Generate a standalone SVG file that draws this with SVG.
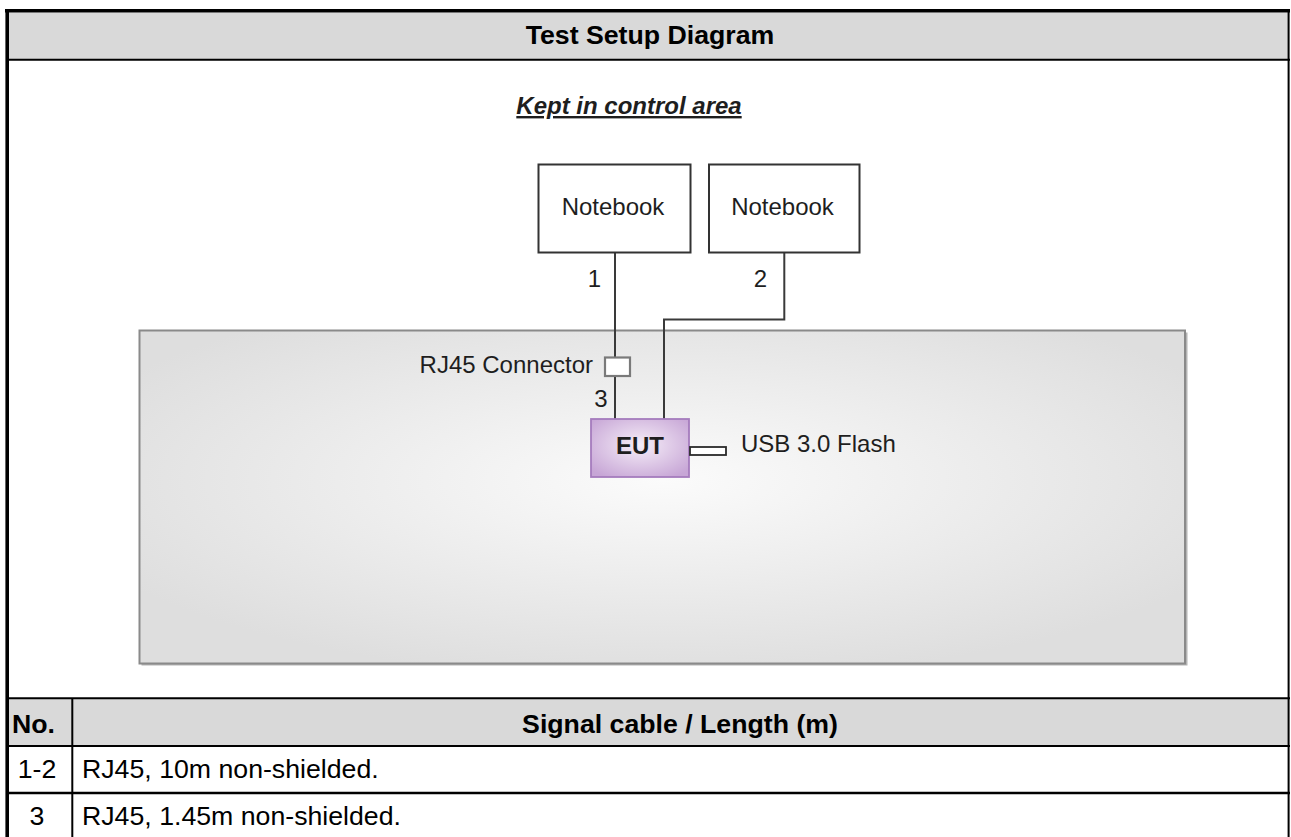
<svg xmlns="http://www.w3.org/2000/svg" width="1291" height="837" viewBox="0 0 1291 837">
<style>
  text { font-family: "Liberation Sans", Arial, sans-serif; fill: #1e1e1e; }
  .hdr { font-size: 26.7px; font-weight: bold; fill: #000; }
  .cell { font-size: 26.7px; fill: #000; }
  .lbl { font-size: 24px; }
  .tline { stroke: #000; stroke-width: 2; }
  .wire { stroke: #3a3a3a; stroke-width: 2; fill: none; }
  .nb { fill: #fff; stroke: #333; stroke-width: 2; }
</style>
<defs>
  <radialGradient id="area" cx="0.5" cy="0.45" r="0.6">
    <stop offset="0" stop-color="#fbfbfb"/>
    <stop offset="1" stop-color="#dedede"/>
  </radialGradient>
  <radialGradient id="eut" cx="0.5" cy="0.45" r="0.65">
    <stop offset="0" stop-color="#f6eef8"/>
    <stop offset="1" stop-color="#c7a6d6"/>
  </radialGradient>
</defs>
<rect width="1291" height="837" fill="#fff"/>

<!-- table frame and header -->
<g id="table">
  <rect x="9" y="12.5" width="1279" height="46.5" fill="#d9d9d9"/>
  <rect x="9" y="699" width="1279" height="46" fill="#d9d9d9"/>
  <line x1="5" y1="10.7" x2="1290" y2="10.7" stroke="#000" stroke-width="3.6"/>
  <line x1="7.2" y1="9" x2="7.2" y2="837" stroke="#000" stroke-width="3.6"/>
  <line x1="1288.6" y1="9" x2="1288.6" y2="837" stroke="#000" stroke-width="2"/>
  <line class="tline" x1="6" y1="59.8" x2="1290" y2="59.8"/>
  <line class="tline" x1="6" y1="698.3" x2="1290" y2="698.3"/>
  <line class="tline" x1="6" y1="746" x2="1290" y2="746"/>
  <line x1="6" y1="793" x2="1290" y2="793" stroke="#000" stroke-width="2.5"/>
  <line class="tline" x1="72.3" y1="698" x2="72.3" y2="837"/>
  <text class="hdr" x="650" y="44" text-anchor="middle">Test Setup Diagram</text>
  <text class="hdr" x="12" y="733">No.</text>
  <text class="hdr" x="680" y="733" text-anchor="middle">Signal cable / Length (m)</text>
  <text class="cell" x="37" y="778" text-anchor="middle">1-2</text>
  <text class="cell" x="82" y="778">RJ45, 10m non-shielded.</text>
  <text class="cell" x="37" y="825" text-anchor="middle">3</text>
  <text class="cell" x="82" y="825">RJ45, 1.45m non-shielded.</text>
</g>

<!-- control area -->
<g id="control-area">
  <rect x="141.5" y="332.5" width="1046" height="333" fill="#b4b4b4"/>
  <rect x="139.5" y="330.5" width="1045.5" height="333" fill="url(#area)" stroke="#8a8a8a" stroke-width="2"/>
  <text x="629" y="114" text-anchor="middle" font-size="24" font-weight="bold" font-style="italic" text-decoration="underline" style="font-family:'Liberation Sans', Arial, sans-serif">Kept in control area</text>
</g>

<!-- connectors -->
<g id="connectors">
  <line class="wire" x1="615" y1="253" x2="615" y2="357"/>
  <line class="wire" x1="615" y1="376" x2="615" y2="419"/>
  <polyline class="wire" points="784.3,253 784.3,319.5 664,319.5 664,419"/>
  <text class="lbl" x="594.5" y="287" text-anchor="middle">1</text>
  <text class="lbl" x="760.5" y="287" text-anchor="middle">2</text>
  <text class="lbl" x="601" y="407" text-anchor="middle">3</text>
</g>

<g id="notebook1">
  <rect class="nb" x="538.5" y="164.5" width="152" height="88"/>
  <text class="lbl" x="613" y="215" text-anchor="middle">Notebook</text>
</g>
<g id="notebook2">
  <rect class="nb" x="709" y="164.5" width="150.5" height="88"/>
  <text class="lbl" x="782.5" y="215" text-anchor="middle">Notebook</text>
</g>

<g id="rj45-connector">
  <rect x="605" y="357.5" width="25" height="18.5" fill="#fff" stroke="#7a7a7a" stroke-width="2.2"/>
  <text class="lbl" x="593" y="372.5" text-anchor="end">RJ45 Connector</text>
</g>

<g id="eut">
  <rect x="591" y="419" width="98" height="58" fill="url(#eut)" stroke="#a57cbd" stroke-width="1.8"/>
  <text x="640" y="453.5" text-anchor="middle" font-size="24" font-weight="bold" style="font-family:'Liberation Sans', Arial, sans-serif">EUT</text>
</g>

<g id="usb-flash">
  <rect x="690" y="447" width="36" height="8" fill="#fff" stroke="#2a2a2a" stroke-width="1.8"/>
  <text class="lbl" x="741" y="452">USB 3.0 Flash</text>
</g>
</svg>
